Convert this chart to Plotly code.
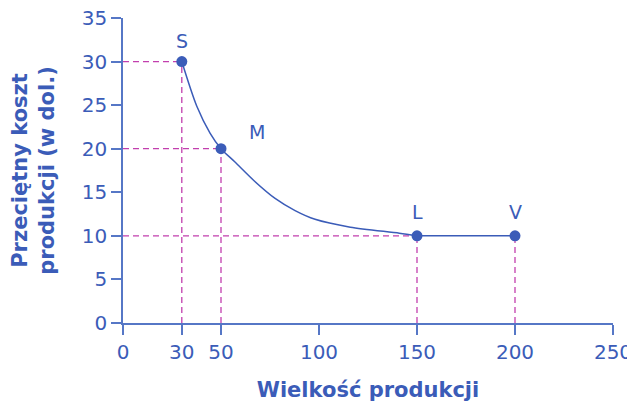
import plotly.graph_objects as go

# Points
point_names = ["S", "M", "L", "V"]
point_x = [30, 50, 150, 200]
point_y = [30, 20, 10, 10]

# Average cost curve
curve_x = [30, 37.6, 44.4, 50, 57, 67, 77.6, 87.8, 98, 116, 141, 150]
curve_y = [30, 24.9, 21.8, 20, 18.5, 16.3, 14.3, 12.9, 11.9, 11.0, 10.3, 10]

# Flat segment
flat_x = [150, 200]
flat_y = [10, 10]

x_ticks = [0, 30, 50, 100, 150, 200, 250]
y_ticks = [0, 5, 10, 15, 20, 25, 30, 35]

BLUE = "#3b5cb8"
AXIS = "#5677c6"
MAG = "#c23fae"
FONT = "DejaVu Sans"

fig = go.Figure()

# dashed guides
for name, px, py in zip(point_names, point_x, point_y):
    fig.add_trace(go.Scatter(x=[px, px], y=[0, py], mode="lines",
                             line=dict(color=MAG, width=1.3, dash="6px,4px"),
                             hoverinfo="skip", showlegend=False))
    if name != "V":
        fig.add_trace(go.Scatter(x=[0, px], y=[py, py], mode="lines",
                                 line=dict(color=MAG, width=1.3, dash="6px,4px"),
                                 hoverinfo="skip", showlegend=False))

fig.add_trace(go.Scatter(x=curve_x, y=curve_y, mode="lines",
                         line=dict(color=BLUE, width=1.5, shape="spline", smoothing=0.8),
                         showlegend=False))
fig.add_trace(go.Scatter(x=flat_x, y=flat_y, mode="lines",
                         line=dict(color=BLUE, width=1.5), showlegend=False))
fig.add_trace(go.Scatter(x=point_x, y=point_y, mode="markers",
                         marker=dict(color=BLUE, size=11), showlegend=False))

for name, px, py in zip(point_names, point_x, point_y):
    if name == "M":
        fig.add_annotation(x=px, y=py, text=name, showarrow=False, xshift=36, yshift=17,
                           font=dict(family=FONT, size=19, color=BLUE))
    elif name == "S":
        fig.add_annotation(x=px, y=py, text=name, showarrow=False, yshift=21,
                           font=dict(family=FONT, size=19, color=BLUE))
    else:
        fig.add_annotation(x=px, y=py, text=name, showarrow=False, yshift=24,
                           font=dict(family=FONT, size=19, color=BLUE))

axis_common = dict(showgrid=False, zeroline=False, showline=True, linecolor=AXIS, linewidth=1.5,
                   ticks="outside", ticklen=10, tickcolor=AXIS, tickwidth=1.5, automargin=False,
                   ticklabeloverflow="allow",
                   tickfont=dict(family=FONT, size=20, color=BLUE))

fig.update_xaxes(range=[0, 250], tickvals=x_ticks, ticktext=[str(v) for v in x_ticks],
                 title=dict(text="<b>Wielkość produkcji</b>", standoff=22,
                            font=dict(family=FONT, size=21, color=BLUE)),
                 **axis_common)
fig.update_yaxes(range=[0, 35], tickvals=y_ticks, ticktext=[str(v) for v in y_ticks],
                 title=dict(text="<b>Przeciętny koszt<br>produkcji (w dol.)</b>", standoff=21,
                            font=dict(family=FONT, size=21, color=BLUE)),
                 **axis_common)

fig.update_layout(width=627, height=394, margin=dict(l=115, r=22, t=10, b=79, autoexpand=False),
                  plot_bgcolor="white", paper_bgcolor="white",
                  font=dict(family=FONT, color=BLUE))

fig.write_html("out.html")
